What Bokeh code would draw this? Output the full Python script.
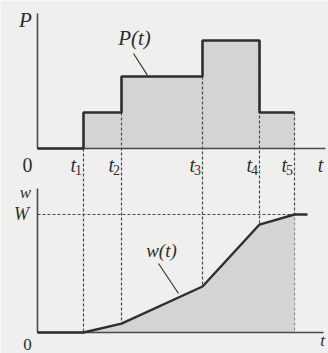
from bokeh.plotting import figure
from bokeh.models import Range1d
from bokeh.embed import file_html
from bokeh.resources import INLINE
from bokeh.core.properties import value

# ---- data ----
t_marks = [4.6, 8.4, 16.5, 22.2, 25.7]          # t1..t5
t_subs = ["1", "2", "3", "4", "5"]
p_levels = [1, 2, 3, 1]                          # P on [t1,t2],[t2,t3],[t3,t4],[t4,t5]
w_values = [0.0, 0.075, 0.39, 0.915, 1.0]        # w at t1..t5 (W = 1)
w_flat_end = 27.0

# ---- layout ----
W, H = 328, 353
X0, X1 = -3.7, 29.1
P0, P1 = -5.694, 4.111
WR0, WR1 = -0.178, 2.8136

BG = "#efefed"
FILL = "#d4d4d2"
INK = "#2e2e2e"
AX = "#4a4a4a"
SERIF = value("Liberation Serif")

p = figure(width=W, height=H, x_range=Range1d(X0, X1), y_range=Range1d(P0, P1),
           output_backend="svg", toolbar_location=None, min_border=0,
           x_axis_location=None, y_axis_location=None)
p.extra_y_ranges = {"w": Range1d(WR0, WR1)}
p.grid.visible = False
p.outline_line_color = None
p.background_fill_color = BG
p.border_fill_color = BG

p_at_w0 = P0 + (0 - WR0) / (WR1 - WR0) * (P1 - P0)

# ---- top: P(t) ----
p.quad(left=t_marks[:-1], right=t_marks[1:], bottom=0, top=p_levels,
       fill_color=FILL, line_color=None)

# dashed verticals through both panels
dash_top = [0] + p_levels
p.segment(x0=t_marks, y0=dash_top, x1=t_marks, y1=[p_at_w0] * len(t_marks),
          line_color=AX, line_width=1.2, line_dash="3 2")

# axes of top panel
p.segment(x0=[0, 0], y0=[0, 0], x1=[0, 28.8], y1=[3.75, 0], line_color=AX, line_width=1.6)

p.step(x=[0] + t_marks, y=[0] + p_levels + [p_levels[-1]], mode="after",
       line_color=INK, line_width=2.6)

# ---- bottom: w(t) ----
p.varea(x=t_marks, y1=[0] * len(t_marks), y2=w_values, fill_color=FILL, y_range_name="w")
p.segment(x0=[0], y0=[w_values[-1]], x1=[t_marks[-1]], y1=[w_values[-1]],
          line_color=AX, line_width=1.2, line_dash="3 2", y_range_name="w")
p.segment(x0=[0, 0], y0=[0, 0], x1=[0, 28.6], y1=[1.22, 0], line_color=AX,
          line_width=1.6, y_range_name="w")
p.line(x=[0] + t_marks + [w_flat_end], y=[0] + w_values + [w_values[-1]],
       line_color=INK, line_width=2.4, y_range_name="w")

# leader lines
p.segment(x0=[9.6], y0=[2.64], x1=[11.0], y1=[2.03], line_color=INK, line_width=1.1)
p.segment(x0=[12.1], y0=[0.585], x1=[14.1], y1=[0.33], line_color=INK, line_width=1.1,
          y_range_name="w")

# ---- texts ----
ylab = -0.47
p.text(x=[t - 0.75 for t in t_marks], y=[ylab] * 5, text=["t"] * 5,
       text_font=SERIF, text_font_style="italic", text_font_size="20px",
       text_align="right", text_baseline="middle", text_color=INK)
p.text(x=[t - 0.15 for t in t_marks], y=[ylab - 0.13] * 5, text=t_subs,
       text_font=SERIF, text_font_size="14px",
       text_align="right", text_baseline="middle", text_color=INK)
p.text(x=[-1.0], y=[ylab], text=["0"], text_font=SERIF, text_font_size="20px",
       text_align="center", text_baseline="middle", text_color=INK)
p.text(x=[28.3], y=[ylab], text=["t"], text_font=SERIF, text_font_style="italic",
       text_font_size="20px", text_align="center", text_baseline="middle", text_color=INK)
p.text(x=[-1.2], y=[3.56], text=["P"], text_font=SERIF, text_font_style="italic",
       text_font_size="21px", text_align="center", text_baseline="middle", text_color=INK)
p.text(x=[9.7], y=[3.06], text=["P(t)"], text_font=SERIF, text_font_style="italic",
       text_font_size="21px", text_align="center", text_baseline="middle", text_color=INK)

p.text(x=[-1.2], y=[1.19], text=["w"], text_font=SERIF, text_font_style="italic",
       text_font_size="17px", text_align="center", text_baseline="middle",
       text_color=INK, y_range_name="w")
p.text(x=[-1.6], y=[1.0], text=["W"], text_font=SERIF, text_font_style="italic",
       text_font_size="18px", text_align="center", text_baseline="middle",
       text_color=INK, y_range_name="w")
p.text(x=[12.4], y=[0.695], text=["w(t)"], text_font=SERIF, text_font_style="italic",
       text_font_size="19px", text_align="center", text_baseline="middle",
       text_color=INK, y_range_name="w")
p.text(x=[-1.0], y=[-0.15], text=["0"], text_font=SERIF, text_font_size="17px",
       text_align="center", text_baseline="bottom", text_color=INK, y_range_name="w")
p.text(x=[28.5], y=[-0.15], text=["t"], text_font=SERIF, text_font_style="italic",
       text_font_size="17px", text_align="center", text_baseline="bottom",
       text_color=INK, y_range_name="w")

html = file_html(p, INLINE)
html = html.replace("<body>", '<body style="background-color:%s">' % BG, 1)
open("out.html", "w").write(html)
